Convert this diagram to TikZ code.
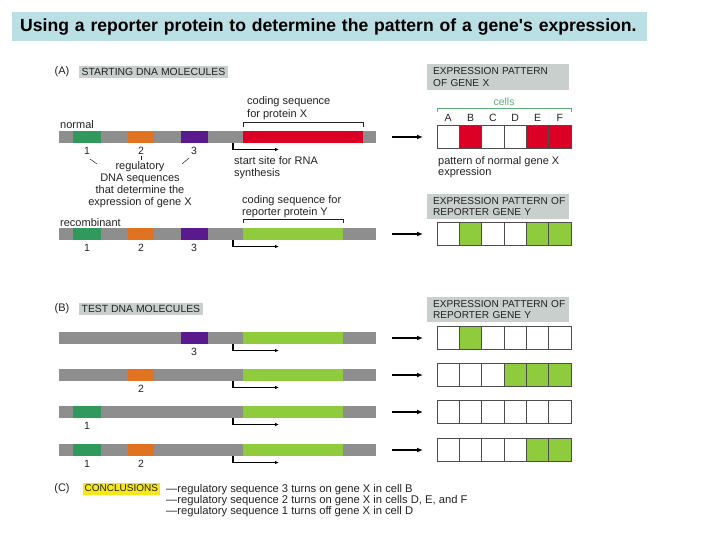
\documentclass[tikz,border=0pt]{standalone}
\usepackage{fontspec}
\setmainfont{Liberation Sans}[Ligatures=TeXOff]
\usetikzlibrary{arrows.meta}
\definecolor{titlebg}{HTML}{BADFE4}
\definecolor{dnagray}{HTML}{8E8E8E}
\definecolor{regone}{HTML}{2F9A5C}
\definecolor{regtwo}{HTML}{E07222}
\definecolor{regthree}{HTML}{5A1A8E}
\definecolor{geneX}{HTML}{DC0024}
\definecolor{geneY}{HTML}{8ECC3E}
\definecolor{labelbg}{HTML}{C9CFCC}
\definecolor{concl}{HTML}{F6E71C}
\definecolor{cellsgreen}{HTML}{5BAE74}
\definecolor{ink}{HTML}{222222}
\tikzset{
  txt/.style={inner sep=0pt, text=ink, font=\fontsize{11}{12}\selectfont, align=left},
  capsfont/.style={font=\fontsize{10.4}{11.5}\selectfont},
  graylabel/.style={fill=labelbg, inner xsep=2.5pt, inner ysep=0pt, minimum height=12pt, text=ink, capsfont, anchor=west},
  rightlabel/.style={fill=labelbg, anchor=north west, minimum width=142pt, text width=136pt, inner xsep=3pt, inner ysep=0pt, align=left, text=ink, font=\fontsize{10.1}{11.5}\selectfont},
  num/.style={inner sep=0pt, text=ink, font=\fontsize{10.5}{11}\selectfont},
  cellbox/.style={draw=black!70, line width=0.8pt, minimum width=22.333pt, minimum height=23pt, inner sep=0pt},
  startarrow/.style={draw=black, line width=1.1pt, -{Latex[length=4pt,width=3.5pt]}},
  rowarrow/.style={draw=black, line width=1.3pt, -{Latex[length=6pt,width=5pt]}},
  bracket/.style={draw=ink, line width=0.6pt},
}
% #1 name, #2 top y, #3 coding colour, #4 coding end x
\newcommand{\dnarow}[4]{%
  \node[fill=dnagray, minimum width=317pt, minimum height=12pt, inner sep=0pt, anchor=north west] (#1) at (59,#2) {};
  \fill[#3] (243,#2) rectangle (#4,#2+12);
  \coordinate (#1-ss) at (233,#2+12);
  \coordinate (#1-se) at (279,#2+18.5);
  \draw[startarrow] (#1-ss) |- (#1-se);
  \coordinate (#1-as) at (392,#2+6);
  \coordinate (#1-ae) at (423,#2+6);
  \draw[rowarrow] (#1-as) -- (#1-ae);
}
\newcommand{\regA}[2]{\fill[regone] (73,#2) rectangle (101,#2+12); \node[num] (#1-n1) at (87,#2+20) {1};}
\newcommand{\regB}[2]{\fill[regtwo] (128,#2) rectangle (154,#2+12); \node[num] (#1-n2) at (141,#2+20) {2};}
\newcommand{\regC}[2]{\fill[regthree] (181,#2) rectangle (208,#2+12); \node[num] (#1-n3) at (194,#2+20) {3};}
% #1 name, #2 centre y, #3 list of fills
\newcommand{\cellrow}[3]{%
  \foreach \c [count=\i] in {#3} {
    \node[cellbox, fill=\c] (#1-c\i) at (437+22.333*\i-11.167,#2) {};
  }
}
\begin{document}
\begin{tikzpicture}[x=1pt,y=-1pt]
\useasboundingbox (0,0) rectangle (720,540);
\fill[white] (0,0) rectangle (720,540);

% title
\node[fill=titlebg, anchor=north west, text width=619pt, inner xsep=8pt, inner ysep=0pt,
      minimum height=29pt, align=left, text=black,
      font=\bfseries\fontsize{17.6}{20}\selectfont] (title) at (12,12)
  {Using a reporter protein to determine the pattern of a gene's expression.};

% ---------------- (A)
\node[txt] (A) at (62,72) {(A)};
\node[graylabel] (labA) at (79,72) {STARTING DNA MOLECULES};

\node[txt, anchor=west] (normal) at (60,124.5) {normal};
\dnarow{nrm}{131}{geneX}{363}
\regA{nrm}{131}\regB{nrm}{131}\regC{nrm}{131}

\node[txt, anchor=north west, font=\fontsize{11}{13}\selectfont] (codX) at (247,96) {coding sequence\\for protein X};
\draw[bracket] (243,127) -- (243,122) -- (363,122) -- (363,127);
\node[txt, anchor=north west] (start) at (234,156) {start site for RNA\\synthesis};

\draw[ink, line width=0.5pt] (90,159) -- (97,164);
\draw[ink, line width=0.5pt] (141,156) -- (141,160);
\draw[ink, line width=0.5pt] (182,164) -- (189,158);
\node[txt, align=center, anchor=north] (regtxt) at (140,161)
  {regulatory\\DNA sequences\\that determine the\\expression of gene X};

\node[txt, anchor=north west] (codY) at (242,195) {coding sequence for\\reporter protein Y};
\draw[bracket] (243,223) -- (243,219) -- (343,219) -- (343,223);

\node[txt, anchor=west] (recomb) at (60,222.5) {recombinant};
\dnarow{rec}{228}{geneY}{343}
\regA{rec}{228}\regB{rec}{228}\regC{rec}{228}

% right side (A)
\node[rightlabel, minimum height=26pt] (expX) at (427,64) {\hspace*{3pt}EXPRESSION PATTERN\\\hspace*{3pt}OF GENE X};
\node[inner sep=0pt, text=cellsgreen, font=\fontsize{10.5}{11}\selectfont] (cells) at (504,102) {cells};
\draw[cellsgreen, line width=0.8pt] (437,112) -- (437,108) -- (571,108) -- (571,112);
\foreach \l [count=\i] in {A,B,C,D,E,F}
  \node[num] (let\l) at (437+22.333*\i-11.167,118) {\l};
\cellrow{rowN}{136.5}{white,geneX,white,white,geneX,geneX}
\node[txt, anchor=north west, font=\fontsize{11}{10.5}\selectfont] (patt) at (438,156.5) {pattern of normal gene X\\expression};

\node[rightlabel, minimum height=25pt] (expY1) at (427,194) {\hspace*{3pt}EXPRESSION PATTERN OF\\\hspace*{3pt}REPORTER GENE Y};
\cellrow{rowR}{234}{white,geneY,white,white,geneY,geneY}

% ---------------- (B)
\node[txt] (B) at (62,308.5) {(B)};
\node[graylabel] (labB) at (79,308.5) {TEST DNA MOLECULES};
\node[rightlabel, minimum height=25pt] (expY2) at (427,297) {\hspace*{3pt}EXPRESSION PATTERN OF\\\hspace*{3pt}REPORTER GENE Y};

\dnarow{t1}{332}{geneY}{343}
\regC{t1}{332}
\cellrow{rowT1}{338}{white,geneY,white,white,white,white}

\dnarow{t2}{369}{geneY}{343}
\regB{t2}{369}
\cellrow{rowT2}{375}{white,white,white,geneY,geneY,geneY}

\dnarow{t3}{406}{geneY}{343}
\regA{t3}{406}
\cellrow{rowT3}{412}{white,white,white,white,white,white}

\dnarow{t4}{444}{geneY}{343}
\regA{t4}{444}\regB{t4}{444}
\cellrow{rowT4}{450}{white,white,white,white,geneY,geneY}

% ---------------- (C)
\node[txt] (C) at (62,488.5) {(C)};
\node[fill=concl, inner xsep=1.5pt, inner ysep=0pt, minimum height=12pt, text=ink, font=\fontsize{10}{11}\selectfont, anchor=west] (labC) at (83,488.5) {CONCLUSIONS};
\node[txt, anchor=north west, font=\fontsize{11.2}{10.8}\selectfont] (concltxt) at (166,484.5)
  {—regulatory sequence 3 turns on gene X in cell B\\
   —regulatory sequence 2 turns on gene X in cells D, E, and F\\
   —regulatory sequence 1 turns off gene X in cell D};
\end{tikzpicture}
\end{document}
